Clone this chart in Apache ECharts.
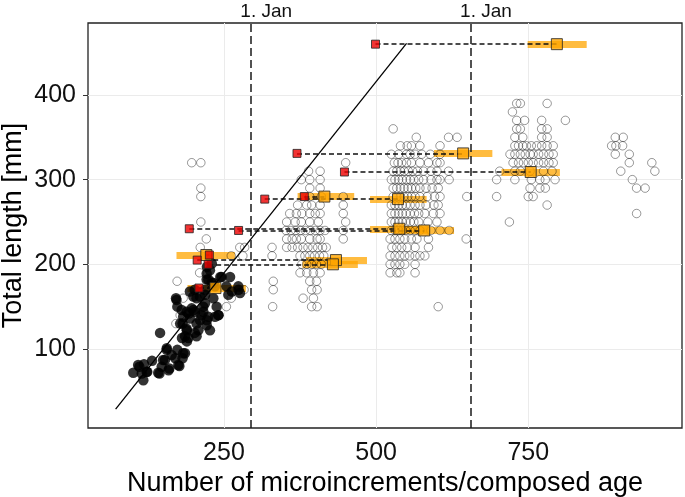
<!DOCTYPE html>
<html><head><meta charset="utf-8">
<script src="https://cdn.jsdelivr.net/npm/echarts@6/dist/echarts.min.js"></script>
<style>html,body{margin:0;padding:0;background:#fff}#c{width:685px;height:497px}</style>
</head><body><div id="c"></div>
<script>
// ---- axis / text data ----
const xTicks = [250, 500, 750];
const yTicks = [100, 200, 300, 400];
const janX = [294, 655];
const janLabel = '1. Jan';
const xTitle = 'Number of microincrements/composed age';
const yTitle = 'Total length [mm]';
const xRange = [26.6, 1002.6];
const yRange = [6.7, 485];

// ---- regression line ----
const trendX = [72, 550];
const trendY = [29, 461];

// ---- back-calculated pairs (red start -> orange composed age, with range bar) ----
const pairY   = [460, 331, 309, 277, 280, 242, 240, 205, 200, 211, 172];
const redX    = [499, 370, 448, 317, 382, 193, 274, 206, 224, 226, 209];
const orangeX = [797, 643, 754, 536, 415, 538, 579, 434, 429, 221, 236];
const barLo   = [749, 595, 706, 490, 371, 490, 540, 385, 379, 172, 190];
const barHi   = [846, 691, 802, 583, 464, 585, 628, 485, 470, 268, 286];

// ---- black filled points (juveniles) [x, y] ----
const blackDots = [
  [101,72],[111,79],[118.6,82],[124,73],[117.5,63],[131.8,86],[142,72],[147.7,79],[153,87],[155.9,99],
  [160.3,77],[164,93],[173.4,99],[176.7,80],[182,89],[186,95],[186,115],[191.5,113],[205,115],[208,122],
  [188.7,124],[182,130],[194,136],[210.6,134],[221.6,128],[224.3,138],[235.3,138],[240.8,140],[171.2,160],[173.4,150],
  [180.5,146],[188.7,144],[197,148],[202.4,144],[216.1,144],[218.9,154],[210.6,162],[199.7,162],[194,168],[218.9,170],
  [232.5,160],[238,150],[257.2,164],[276.4,166],[273.6,174],[260,185],[246.2,185],[221.6,189],[227,193],[224.3,182],
  [229.8,178],[221.6,182],[235.3,174],[145,119],[109,81],[115,71],[123,73],[144,71],[150,87],[156,101],
  [159,75],[170,89],[175,81],[183,95],[181,113],[189,109],[202,119],[183,138],[192,142],[200,146],
  [205,130],[205,160],[213,140],[222,134],[227,122],[219,164],[222,197],[230,201],[233,178],[244,185],
  [254,174],[263,168],[172,158],[178,130],[189,122],[216,150],[202,170],[241,140],[274,170]
];

// ---- grey open circles, rows of [length, [ages...]] ----
const greyA = [
  [320,[197,212]],[290,[212]],[280,[212]],[250,[212]],[230,[221]],
  [220,[211,276,284,329]],[210,[262,281,329]],[190,[210]],[180,[173,229,331]],
  [170,[283,331]],[160,[183,262]],[150,[254,330]],[140,[178]],[130,[171]]
];
const greyB = [
  [320,[450]],[310,[389,408]],[300,[377,391,408]],[290,[391,408]],[280,[391,410,446]],
  [270,[371,386,394,408,446]],[260,[358,369,378,391,400,408,446]],[250,[353,367,377,391,405,450]],
  [240,[352,360,368,376,384,392,400,408,416,446]],[230,[353,362,369,377,391,403,408,446]],
  [220,[353,362,371,380,388,396,404,412,418]],[210,[375,383,391,399,407,414]],
  [200,[378,386,394,402,410]],[190,[375,386,397,408]],[180,[391,402]],[170,[394,403]],
  [160,[380,397]],[150,[394,403]]
];
const greyC = [
  [360,[528]],[350,[566,619,633]],[340,[540,551,558,572,605]],
  [330,[525,537,550,556,564,575,589,605]],[320,[530,536,542,550,558,572,586,600,605]],
  [310,[528,534,540,546,553,560,568,578,590,600,619]],
  [300,[525,531,537,543,550,556,562,570,578,590,600,605,620]],
  [290,[528,534,540,546,552,558,565,572,582,592,602]],
  [280,[528,534,540,546,552,558,564,572,584,596,605,649]],
  [270,[525,531,537,543,549,556,564,572,582,595,602]],
  [260,[525,531,537,543,549,556,563,570,580,594,605]],
  [250,[525,531,537,543,549,556,562,570,585,600]],
  [240,[525,531,537,543,549,556,564,572,590,605,620]],
  [230,[523,531,539,547,558,567,586,648]],[220,[526,534,542,551,564,586]],
  [210,[523,531,539,547,555,564,572,580]],[200,[523,531,539,547,564]],
  [190,[523,534,539,564]],[150,[602]]
];
const greyD = [
  [390,[731,737,781]],[380,[724]],[370,[731,744,772,811]],[360,[731,737,772,781]],
  [350,[728,741,772,781]],[340,[728,734,741,747,755,764,772,781,791]],
  [330,[720,728,737,745,753,758,767,775,784,791]],[320,[725,734,742,750,758,767,775,784,791]],
  [310,[703,728,737,753,775,789]],[300,[698,728,755,769,778,794]],[290,[753,769,778]],
  [280,[698,750,758]],[270,[781]],[250,[719]]
];
const greyE = [
  [350,[893,906]],[340,[887,894,905]],[330,[893,916]],[320,[916,953]],
  [310,[902,958]],[300,[921]],[290,[928,942]],[260,[928]]
];

// ---- build ----
const greyPts = [];
[greyA, greyB, greyC, greyD, greyE].forEach(rows =>
  rows.forEach(([y, xs]) => xs.forEach(x => greyPts.push([x, y]))));
const barSegs = pairY.map((y, i) => ({coords: [[barLo[i], y], [barHi[i], y]]}));
const dashSegs = pairY.map((y, i) => ({coords: [[redX[i], y], [orangeX[i], y]]}));
const orangePts = pairY.map((y, i) => [orangeX[i], y]);
const redPts = pairY.map((y, i) => [redX[i], y]);
const trendPts = trendX.map((x, i) => [x, trendY[i]]);

const FONT = "'Liberation Sans', Arial, sans-serif";
const chart = echarts.init(document.getElementById('c'), null, {renderer: 'canvas'});
chart.setOption({
  animation: false,
  backgroundColor: '#fff',
  textStyle: {fontFamily: FONT},
  grid: {left: 88, right: 3, top: 23, bottom: 69, show: true, borderColor: '#222', borderWidth: 1.3,
         containLabel: false, outerBoundsMode: 'none'},
  xAxis: [{
    type: 'value', position: 'bottom', min: xRange[0], max: xRange[1],
    axisLine: {show: false},
    axisTick: {show: false, customValues: xTicks},
    axisLabel: {customValues: xTicks, fontSize: 25, color: '#111', margin: 13, fontFamily: FONT},
    splitLine: {show: true, lineStyle: {color: '#ebebeb', width: 1}},
    name: xTitle, nameLocation: 'middle', nameGap: 42, nameMoveOverlap: false,
    nameTextStyle: {fontSize: 27, color: '#000', fontFamily: FONT}
  }, {
    type: 'value', position: 'top', min: xRange[0], max: xRange[1],
    axisLine: {show: false}, axisTick: {show: false}, splitLine: {show: false},
    axisLabel: {customValues: janX, formatter: () => janLabel, fontSize: 19, color: '#111',
                margin: 2, padding: [0, 0, 0, 31], fontFamily: FONT}
  }],
  yAxis: {
    type: 'value', min: yRange[0], max: yRange[1],
    axisLine: {show: false},
    axisTick: {show: true, customValues: yTicks, length: 5, lineStyle: {color: '#333', width: 1}},
    axisLabel: {customValues: yTicks, fontSize: 25, color: '#111', margin: 12, fontFamily: FONT},
    splitLine: {show: true, lineStyle: {color: '#ebebeb', width: 1}},
    name: yTitle, nameLocation: 'middle', nameGap: 61, nameMoveOverlap: false,
    nameTextStyle: {fontSize: 27, color: '#000', fontFamily: FONT}
  },
  series: [
    {type: 'scatter', data: greyPts, symbol: 'circle', symbolSize: 8.5, silent: true,
     itemStyle: {color: 'rgba(0,0,0,0)', borderColor: 'rgba(0,0,0,0.5)', borderWidth: 1}},
    {type: 'scatter', data: blackDots, symbol: 'circle', symbolSize: 10.5, silent: true,
     itemStyle: {color: '#000'}},
    {type: 'line', data: trendPts, symbol: 'none', silent: true,
     lineStyle: {color: '#000', width: 1.3},
     markLine: {symbol: 'none', silent: true, label: {show: false},
       lineStyle: {type: [8, 4], color: '#1a1a1a', width: 1.5},
       data: janX.map(v => ({xAxis: v}))}},
    {type: 'lines', coordinateSystem: 'cartesian2d', data: barSegs, silent: true,
     lineStyle: {color: 'rgba(255,165,0,0.75)', width: 7, opacity: 1, cap: 'butt'}},
    {type: 'lines', coordinateSystem: 'cartesian2d', data: dashSegs, silent: true,
     lineStyle: {color: '#111', width: 1.6, type: [5, 3], opacity: 1}},
    {type: 'scatter', data: orangePts, symbol: 'rect', symbolSize: 11, silent: true,
     itemStyle: {color: '#FFA500', borderColor: '#222', borderWidth: 1}},
    {type: 'scatter', data: redPts, symbol: 'rect', symbolSize: 8, silent: true,
     itemStyle: {color: '#EE0000', borderColor: '#222', borderWidth: 1}}
  ]
});
</script></body></html>
